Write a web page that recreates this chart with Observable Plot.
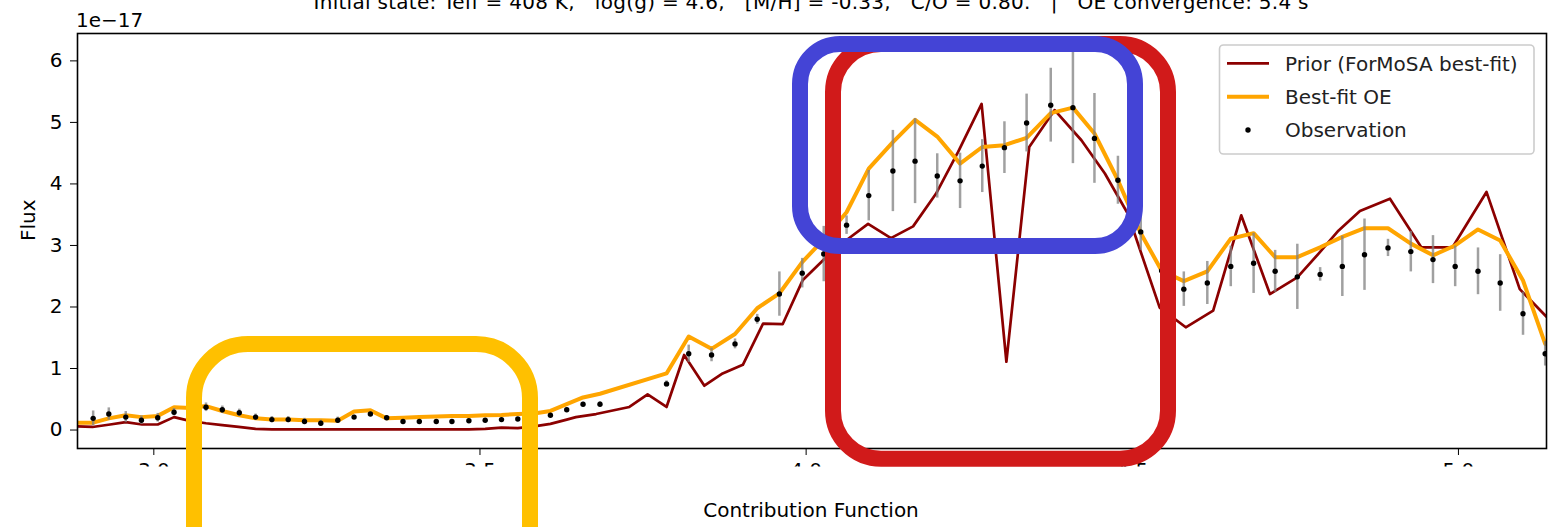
<!DOCTYPE html>
<html>
<head>
<meta charset="utf-8">
<script src="https://cdn.jsdelivr.net/npm/d3@7"></script>
<script src="https://cdn.jsdelivr.net/npm/@observablehq/plot@0.6"></script>
<style>
  html, body { margin: 0; padding: 0; background: #fff; }
  #wrap { position: relative; width: 1564px; height: 527px; overflow: hidden; }
  #overlay { position: absolute; left: 0; top: 0; pointer-events: none; }
  text { font-family: "DejaVu Sans", sans-serif; }
</style>
</head>
<body>
<div id="wrap"></div>
<script>
// ---------- data (wavelength in µm, flux in units of 1e-17) ----------
const obsWave = [2.907,2.931,2.957,2.981,3.006,3.031,3.056,3.080,3.105,3.131,3.156,3.181,3.206,3.231,3.256,3.282,3.307,3.332,3.357,3.382,3.407,3.433,3.457,3.483,3.508,3.533,3.558,3.583,3.608,3.633,3.658,3.684,
  3.786,3.820,3.855,3.891,3.925,3.959,3.994,4.027,4.062,4.096,4.133,4.167,4.201,4.236,4.270,4.304,4.338,4.375,4.409,4.442,4.478,4.513,4.545,4.579,4.615,4.651,4.686,4.719,4.753,4.788,4.822,4.856,4.892,4.927,4.961,4.995,5.030,5.064,5.099,5.133];
const obsFlux = [0.19,0.26,0.21,0.16,0.20,0.29,0.33,0.37,0.33,0.28,0.21,0.17,0.17,0.14,0.11,0.16,0.21,0.26,0.20,0.14,0.14,0.14,0.14,0.15,0.16,0.17,0.18,0.21,0.24,0.33,0.42,0.42,
  0.75,1.24,1.22,1.40,1.80,2.21,2.55,2.86,3.33,3.81,4.21,4.37,4.13,4.05,4.29,4.59,4.99,5.28,5.24,4.74,4.06,3.22,2.59,2.29,2.39,2.66,2.71,2.58,2.49,2.53,2.66,2.85,2.96,2.90,2.77,2.66,2.58,2.39,1.89,1.24];
const obsErr = [0.12,0.10,0.09,0.07,0.07,0.06,0.06,0.07,0.06,0.06,0.05,0.05,0.05,0.05,0.05,0.05,0.03,0.03,0.03,0.02,0.02,0.02,0.02,0.02,0.02,0.02,0.02,0.02,0.03,0.03,0.03,0.04,
  0.05,0.14,0.11,0.08,0.08,0.36,0.24,0.45,0.15,0.41,0.66,0.69,0.36,0.45,0.43,0.42,0.47,0.60,0.91,0.73,0.39,0.30,0.34,0.28,0.35,0.33,0.49,0.34,0.53,0.11,0.49,0.58,0.14,0.33,0.39,0.33,0.38,0.46,0.35,0.20];

const oeWave = [2.883,2.907,2.931,2.957,2.981,3.006,3.031,3.056,3.080,3.105,3.131,3.156,3.181,3.206,3.231,3.256,3.282,3.307,3.332,3.357,3.382,3.407,3.433,3.457,3.483,3.508,3.533,3.558,3.583,3.608,3.633,3.658,3.684,
  3.786,3.820,3.855,3.891,3.925,3.959,3.994,4.027,4.062,4.096,4.133,4.167,4.201,4.236,4.270,4.304,4.338,4.375,4.409,4.442,4.478,4.513,4.545,4.579,4.615,4.651,4.686,4.719,4.753,4.788,4.822,4.856,4.892,4.927,4.961,4.995,5.030,5.064,5.099,5.133];
const oeFlux = [0.12,0.12,0.19,0.24,0.21,0.23,0.37,0.36,0.39,0.31,0.24,0.19,0.17,0.17,0.16,0.16,0.15,0.30,0.32,0.19,0.20,0.21,0.22,0.23,0.23,0.24,0.245,0.26,0.27,0.31,0.42,0.53,0.59,
  0.92,1.52,1.32,1.56,1.98,2.22,2.73,3.10,3.54,4.25,4.68,5.04,4.77,4.33,4.60,4.63,4.75,5.15,5.24,4.82,4.06,3.20,2.59,2.42,2.58,3.11,3.20,2.81,2.81,2.97,3.14,3.28,3.28,3.03,2.84,3.00,3.26,3.08,2.43,1.40];

const priorWave = [2.883,2.906,2.933,2.957,2.982,3.006,3.031,3.055,3.080,3.105,3.130,3.156,3.181,3.483,3.508,3.533,3.558,3.583,3.608,3.633,3.647,3.678,3.729,3.757,3.786,3.813,3.844,3.872,3.903,3.934,3.964,3.995,4.028,4.061,4.095,4.130,4.164,4.199,4.233,4.269,4.307,4.342,4.381,4.422,4.458,4.493,4.542,4.582,4.624,4.667,4.711,4.753,4.785,4.816,4.849,4.895,4.943,4.991,5.043,5.094,5.135];
const priorFlux = [0.06,0.05,0.09,0.13,0.09,0.09,0.21,0.15,0.11,0.08,0.05,0.02,0.01,0.01,0.02,0.04,0.03,0.06,0.10,0.17,0.21,0.26,0.375,0.58,0.375,1.22,0.72,0.92,1.06,1.73,1.72,2.44,2.78,3.08,3.35,3.12,3.31,3.84,4.52,5.30,1.11,4.60,5.20,4.71,4.17,3.52,1.99,1.67,1.94,3.49,2.21,2.48,2.86,3.24,3.56,3.76,2.97,2.97,3.87,2.29,1.84];

const xTicks = [3.0, 3.5, 4.0, 4.5, 5.0];
const yTicks = [0, 1, 2, 3, 4, 5, 6];
const legendLabels = ["Prior (ForMoSA best-fit)", "Best-fit OE", "Observation"];
const titleText = "Initial state: Teff = 408 K,   log(g) = 4.6,   [M/H] = -0.33,   C/O = 0.80.   |   OE convergence: 5.4 s";

// ---------- tables ----------
const obs = obsWave.map((w, i) => ({w, f: obsFlux[i], e: obsErr[i]}));
const oe = oeWave.map((w, i) => ({w, f: oeFlux[i]}));
const prior = priorWave.map((w, i) => ({w, f: priorFlux[i]}));

const chart = Plot.plot({
  width: 1564,
  height: 527,
  marginLeft: 77,
  marginRight: 18,
  marginTop: 33,
  marginBottom: 79,
  style: {fontFamily: "DejaVu Sans", fontSize: "20px", color: "#000", background: "#fff"},
  x: {domain: [2.883, 5.135], ticks: xTicks, tickFormat: d => d.toFixed(1), tickSize: 7, tickPadding: 7, label: null},
  y: {domain: [-0.30, 6.445], ticks: yTicks, tickFormat: d => d.toFixed(0), tickSize: 7, tickPadding: 8, label: null},
  marks: [
    Plot.line(prior, {x: "w", y: "f", stroke: "#8b0000", strokeWidth: 2.7, clip: true}),
    Plot.line(oe, {x: "w", y: "f", stroke: "#ffa500", strokeWidth: 4, clip: true}),
    Plot.ruleX(obs, {x: "w", y1: d => d.f - d.e, y2: d => d.f + d.e, stroke: "#808080", strokeOpacity: 0.75, strokeWidth: 2.5, clip: true}),
    Plot.dot(obs, {x: "w", y: "f", r: 2.7, fill: "#000", stroke: "none", clip: true}),
    Plot.frame({stroke: "#000", strokeWidth: 1.6}),
    Plot.text(["Flux"], {frameAnchor: "left", dx: -49, rotate: -90, fontSize: 20})
  ]
});
document.getElementById("wrap").appendChild(chart);

// ---------- overlay: title, offset text, legend, annotations ----------
const ov = d3.select("#wrap").append("svg")
  .attr("id", "overlay").attr("width", 1564).attr("height", 527);

// crop band hiding lower part of x tick labels (as in the reference)
ov.append("rect").attr("x", 0).attr("y", 466.5).attr("width", 1564).attr("height", 30).attr("fill", "#fff");

ov.append("text").attr("x", 811).attr("y", 9).attr("text-anchor", "middle")
  .attr("font-size", 20).attr("fill", "#000").attr("xml:space", "preserve")
  .style("white-space", "pre")
  .attr("textLength", 995).attr("lengthAdjust", "spacing")
  .text(titleText);

ov.append("text").attr("x", 76).attr("y", 26.5).attr("font-size", 20).attr("fill", "#000").text("1e\u221217");

ov.append("text").attr("x", 811).attr("y", 517).attr("text-anchor", "middle")
  .attr("font-size", 20).attr("fill", "#000").text("Contribution Function");

// legend
const lg = ov.append("g");
lg.append("rect").attr("x", 1219.5).attr("y", 45).attr("width", 314.5).attr("height", 109)
  .attr("rx", 4).attr("fill", "#fff").attr("fill-opacity", 0.8).attr("stroke", "#cccccc").attr("stroke-width", 1.6);
const rowsY = [63.3, 96.7, 130];
lg.append("line").attr("x1", 1227).attr("x2", 1269).attr("y1", rowsY[0]).attr("y2", rowsY[0]).attr("stroke", "#8b0000").attr("stroke-width", 2.7);
lg.append("line").attr("x1", 1227).attr("x2", 1269).attr("y1", rowsY[1]).attr("y2", rowsY[1]).attr("stroke", "#ffa500").attr("stroke-width", 4);
lg.append("circle").attr("cx", 1248).attr("cy", rowsY[2]).attr("r", 2.7).attr("fill", "#000");
legendLabels.forEach((t, i) => {
  lg.append("text").attr("x", 1285).attr("y", rowsY[i] + 7.2).attr("font-size", 20).attr("fill", "#222").text(t);
});

// highlight boxes
const boxes = [
  {x: 194, y: 344, w: 336, h: 260, r: 54, c: "#ffc000"},
  {x: 833, y: 44, w: 335, h: 414.7, r: 48, c: "#d11a1a"},
  {x: 800, y: 44, w: 335, h: 202, r: 40, c: "#4444d6"}
];
boxes.forEach(b => {
  ov.append("rect").attr("x", b.x).attr("y", b.y).attr("width", b.w).attr("height", b.h)
    .attr("rx", b.r).attr("ry", b.r).attr("fill", "none").attr("stroke", b.c).attr("stroke-width", 16);
});
</script>
</body>
</html>
